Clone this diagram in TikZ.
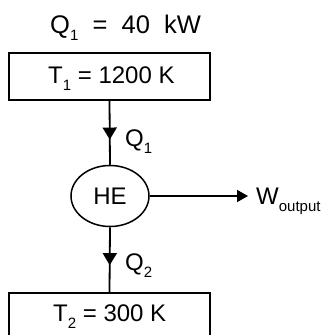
\documentclass[tikz,border=0pt]{standalone}
\usepackage{fontspec}
\setmainfont{Liberation Sans}
\usetikzlibrary{arrows.meta,decorations.markings,shapes.geometric}
\newcommand{\lowsub}[1]{\raisebox{-0.3em}{\fontsize{15}{17}\selectfont #1}}
\begin{document}
\begin{tikzpicture}[x=1pt,y=-1pt,
  reservoir/.style={draw,line width=1.5pt,minimum width=201pt,inner sep=0pt},
  engine/.style={draw,ellipse,line width=1.5pt,minimum width=78pt,minimum height=61pt,inner sep=0pt},
  flow/.style={line width=1.8pt,postaction={decorate},decoration={markings,mark=at position #1 with {\arrow{Triangle[width=14pt,length=12pt]}}}},
  lbl/.style={font=\fontsize{24}{28}\selectfont,inner sep=0pt}]
\useasboundingbox (0,0) rectangle (323,335);
\clip (0,0) rectangle (323,335);
\node[lbl,font=\fontsize{25.5}{30}\selectfont,anchor=base west] (title) at (50,33) {Q\lowsub{1}\ \ =\ \ 40\ \ kW};
\node[reservoir,minimum height=47pt] (hot) at (109.5,76.5) {};
\node[lbl,anchor=base west] (hottext) at (48,83) {T\lowsub{1} = 1200 K};
\node[engine] (he) at (110,196) {};
\node[lbl,anchor=base] (hetext) at (110,204) {HE};
\node[reservoir,minimum height=52pt,anchor=north] (cold) at (109.5,292) {};
\node[lbl,anchor=base west] (coldtext) at (53,321) {T\lowsub{2} = 300 K};
\coordinate (wend) at (248,196);
\draw[flow=0.606] (hot.south) -- (he.north);
\draw[flow=0.585] (he.south) -- (cold.north);
\draw[line width=1.5pt,-{Triangle[width=12pt,length=11pt]}] (he.east) -- (wend);
\node[lbl,anchor=base west] (q1) at (125,146) {Q\lowsub{1}};
\node[lbl,anchor=base west] (q2) at (125,270) {Q\lowsub{2}};
\node[lbl,anchor=base west] (w) at (256,204) {W\lowsub{output}};
\end{tikzpicture}
\end{document}
